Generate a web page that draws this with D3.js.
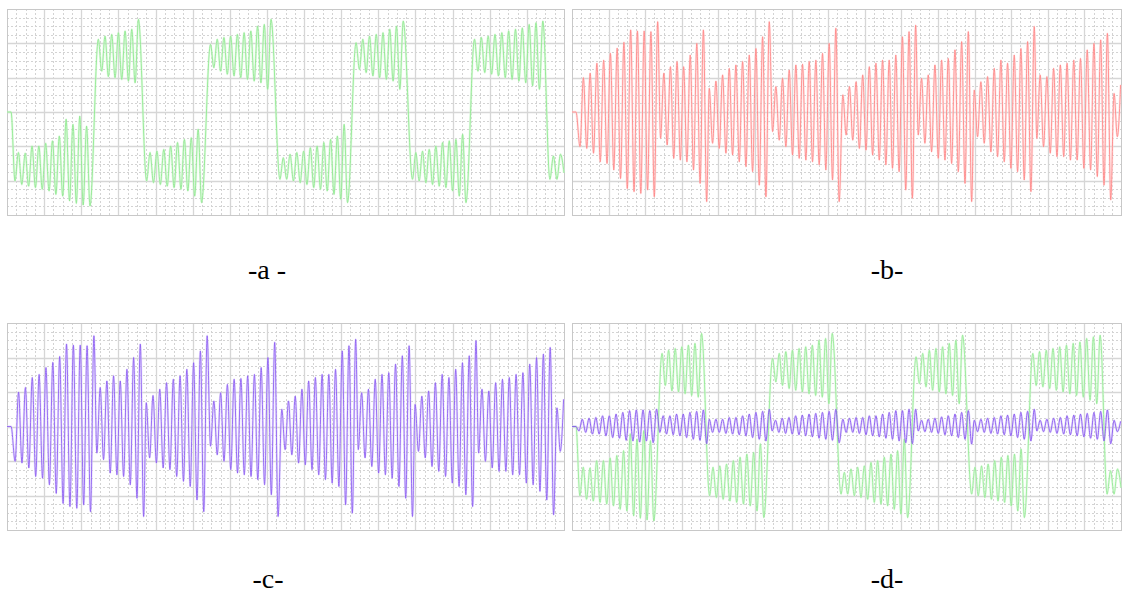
<!DOCTYPE html>
<html>
<head>
<meta charset="utf-8">
<script src="https://cdn.jsdelivr.net/npm/d3@7"></script>
<style>
  html, body { margin: 0; padding: 0; background: #fff; }
  svg { display: block; }
</style>
</head>
<body>
<svg id="chart" width="1122" height="594"></svg>
<script>
// time in screen divisions (0..15), value in divisions (-3..3)
// each segment: extrema, spread between its start and end time

// switched output voltage (panels a and d, green)
const greenT0 = [0, 0.215, 2.46, 3.76, 5.48, 7.35, 9.40, 10.92, 12.59, 14.62];
const greenT1 = [0.11, 2.235, 3.54, 5.24, 7.11, 9.17, 10.67, 12.36, 14.43, 15.0];
const greenPeaks = [
  [0, 0],
  [-2.01, -1.18, -2.11, -1.20, -2.16, -0.99, -2.20, -0.99, -2.25, -0.91, -2.30, -0.84, -2.40, -0.70, -2.45, -0.21, -2.59, -0.36, -2.66, -0.12, -2.71, -0.41, -2.74],
  [2.12, 1.19, 2.21, 1.03, 2.26, 1.00, 2.31, 0.95, 2.36, 0.90, 2.41, 0.85, 2.70],
  [-2.01, -1.18, -2.06, -1.14, -2.11, -1.09, -2.16, -0.99, -2.20, -0.89, -2.25, -0.80, -2.30, -0.75, -2.45, -0.50, -2.64],
  [1.97, 1.29, 2.12, 1.19, 2.17, 1.10, 2.21, 1.05, 2.26, 1.00, 2.31, 0.95, 2.36, 0.90, 2.50, 0.85, 2.55, 0.66, 2.70],
  [-1.96, -1.33, -1.96, -1.23, -2.01, -1.18, -2.06, -1.14, -2.11, -1.04, -2.20, -0.99, -2.25, -0.89, -2.30, -0.80, -2.40, -0.70, -2.54, -0.36, -2.64],
  [2.02, 1.24, 2.12, 1.15, 2.21, 1.05, 2.26, 1.00, 2.31, 0.95, 2.41, 0.90, 2.50, 0.66, 2.65],
  [-1.96, -1.18, -2.01, -1.14, -2.06, -1.09, -2.11, -0.99, -2.16, -0.89, -2.20, -0.84, -2.30, -0.80, -2.45, -0.65, -2.64],
  [2.12, 1.19, 2.17, 1.15, 2.21, 1.10, 2.26, 1.05, 2.31, 1.00, 2.36, 0.95, 2.41, 0.90, 2.45, 0.85, 2.55, 0.76, 2.60, 0.66, 2.65],
  [-1.96, -1.28, -1.96, -1.23, -1.77]
];

// load current (panel b red, panel c purple)
const currentT0 = [0, 0.219, 2.42, 3.75, 5.48, 7.40, 9.46, 10.99, 12.70, 14.81];
const currentT1 = [0.11, 2.341, 3.68, 5.39, 7.30, 9.39, 10.92, 12.63, 14.72, 14.99];
const currentPeaks = [
  [0, 0],
  [-1.01, 1.00, -1.06, 1.13, -1.20, 1.42, -1.45, 1.51, -1.50, 1.71, -1.69, 1.86, -1.94, 2.03, -2.23, 2.39, -2.32, 2.36, -2.37, 2.36, -2.27, 2.34, -2.47, 2.63],
  [-0.77, 1.13, -0.96, 1.32, -1.35, 1.47, -1.40, 1.32, -1.45, 1.66, -1.69, 2.00, -2.08, 2.39, -2.61],
  [0.69, -0.91, 0.90, -1.06, 1.08, -1.20, 1.27, -1.25, 1.37, -1.45, 1.47, -1.59, 1.66, -1.74, 1.85, -2.13, 2.19, -2.47, 2.63],
  [-0.57, 0.74, -0.82, 0.98, -1.01, 1.22, -1.25, 1.37, -1.35, 1.39, -1.40, 1.47, -1.45, 1.51, -1.54, 1.71, -1.69, 2.00, -1.98, 2.44, -2.61],
  [0.50, -0.67, 0.74, -0.82, 0.88, -1.06, 1.08, -1.11, 1.32, -1.25, 1.42, -1.40, 1.51, -1.54, 1.51, -1.64, 1.66, -1.74, 2.19, -2.27, 2.34, -2.51, 2.53],
  [-0.67, 0.98, -0.91, 1.08, -1.16, 1.37, -1.35, 1.51, -1.40, 1.56, -1.50, 1.81, -1.74, 2.05, -2.08, 2.34, -2.61],
  [0.64, -0.72, 0.88, -0.91, 1.03, -1.16, 1.27, -1.30, 1.51, -1.45, 1.42, -1.64, 1.66, -1.74, 1.85, -1.98, 2.05, -2.32, 2.49],
  [-0.77, 1.08, -1.01, 1.03, -1.20, 1.27, -1.30, 1.37, -1.30, 1.42, -1.40, 1.51, -1.40, 1.56, -1.64, 1.81, -1.69, 2.00, -1.88, 2.10, -2.13, 2.29, -2.56],
  [0.54, -0.72, 0.79]
];

// filtered current (panel d, purple)
const filteredT0 = [0, 0.19, 2.40, 3.75, 5.47, 7.40, 9.46, 10.99, 12.70, 14.81];
const filteredT1 = [0.11, 2.31, 3.68, 5.39, 7.30, 9.39, 10.92, 12.63, 14.72, 14.99];
const filteredPeaks = [
  [0, 0],
  [-0.13, 0.21, -0.17, 0.24, -0.22, 0.26, -0.22, 0.31, -0.27, 0.31, -0.32, 0.36, -0.34, 0.41, -0.40, 0.46, -0.42, 0.48, -0.45, 0.48, -0.42, 0.46, -0.47, 0.50],
  [-0.17, 0.31, -0.22, 0.31, -0.24, 0.36, -0.27, 0.36, -0.32, 0.41, -0.37, 0.44, -0.40, 0.48, -0.50],
  [0.21, -0.17, 0.21, -0.17, 0.21, -0.20, 0.26, -0.22, 0.26, -0.24, 0.31, -0.27, 0.36, -0.32, 0.41, -0.37, 0.44, -0.42, 0.50],
  [-0.13, 0.18, -0.17, 0.24, -0.20, 0.26, -0.22, 0.31, -0.24, 0.33, -0.27, 0.36, -0.30, 0.38, -0.34, 0.41, -0.37, 0.44, -0.40, 0.50, -0.47],
  [0.21, -0.17, 0.24, -0.17, 0.26, -0.20, 0.26, -0.24, 0.31, -0.27, 0.31, -0.30, 0.36, -0.34, 0.41, -0.37, 0.46, -0.42, 0.46, -0.47, 0.50, -0.50, 0.50],
  [-0.13, 0.18, -0.15, 0.21, -0.17, 0.24, -0.20, 0.28, -0.24, 0.31, -0.27, 0.36, -0.32, 0.41, -0.37, 0.46, -0.51],
  [0.18, -0.15, 0.21, -0.17, 0.24, -0.20, 0.26, -0.22, 0.31, -0.24, 0.33, -0.27, 0.36, -0.32, 0.41, -0.37, 0.44, -0.42, 0.50],
  [-0.13, 0.18, -0.15, 0.21, -0.17, 0.24, -0.20, 0.26, -0.22, 0.31, -0.24, 0.33, -0.27, 0.36, -0.30, 0.38, -0.34, 0.41, -0.37, 0.44, -0.42, 0.48, -0.50],
  [0.18, -0.15, 0.15]
];

const panelLabels = ["-a -", "-b-", "-c-", "-d-"];

const svg = d3.select("#chart");

// place the read extrema of each segment along the time axis
function toPoints(t0, t1, peaks) {
  const pts = [];
  peaks.forEach((vals, i) => {
    const step = vals.length > 1 ? (t1[i] - t0[i]) / (vals.length - 1) : 0;
    vals.forEach((v, k) => pts.push({ t: t0[i] + k * step, v: v }));
  });
  return pts;
}

const green = toPoints(greenT0, greenT1, greenPeaks);
const current = toPoints(currentT0, currentT1, currentPeaks);
const filtered = toPoints(filteredT0, filteredT1, filteredPeaks);

const panels = [
  { x0: 7, x1: 564, y0: 9, y1: 215, label: panelLabels[0], lx: 267, ly: 279,
    traces: [{ data: green, color: "#8ee88e", halo: "#d2f7d2" }] },
  { x0: 572, x1: 1121, y0: 9, y1: 215, label: panelLabels[1], lx: 887, ly: 279,
    traces: [{ data: current, color: "#ff8484", halo: "#ffd9d9" }] },
  { x0: 7, x1: 564, y0: 323, y1: 530, label: panelLabels[2], lx: 268, ly: 588,
    traces: [{ data: current, color: "#8a5af2", halo: "#ddd2fb" }] },
  { x0: 572, x1: 1121, y0: 323, y1: 530, label: panelLabels[3], lx: 887, ly: 588,
    traces: [{ data: green, color: "#94ea94", halo: "#d6f8d6" },
             { data: filtered, color: "#8452f0", halo: "#d8ccfa" }] }
];

panels.forEach(function (p) {
  const x = d3.scaleLinear().domain([0, 15]).range([p.x0, p.x1]);
  const y = d3.scaleLinear().domain([-3, 3]).range([p.y1, p.y0]);
  const g = svg.append("g");

  // minor grid (dotted)
  const minorX = d3.range(0, 15.001, 0.25).filter((d) => d % 1 !== 0);
  const minorY = d3.range(-3, 3.001, 0.25).filter((d) => d % 1 !== 0);
  g.selectAll(".mx").data(minorX).join("line")
    .attr("x1", (d) => Math.round(x(d)) + 0.5).attr("x2", (d) => Math.round(x(d)) + 0.5)
    .attr("y1", p.y0).attr("y2", p.y1)
    .attr("stroke", "#d3d3d3").attr("stroke-dasharray", "2,2");
  g.selectAll(".my").data(minorY).join("line")
    .attr("y1", (d) => Math.round(y(d)) + 0.5).attr("y2", (d) => Math.round(y(d)) + 0.5)
    .attr("x1", p.x0).attr("x2", p.x1)
    .attr("stroke", "#d3d3d3").attr("stroke-dasharray", "2,2");

  // major grid
  g.selectAll(".Mx").data(d3.range(1, 15)).join("line")
    .attr("x1", (d) => Math.round(x(d)) + 0.5).attr("x2", (d) => Math.round(x(d)) + 0.5)
    .attr("y1", p.y0).attr("y2", p.y1)
    .attr("stroke", "#d6d6d6").attr("stroke-width", 1.3);
  g.selectAll(".My").data(d3.range(-2, 3)).join("line")
    .attr("y1", (d) => Math.round(y(d)) + 0.5).attr("y2", (d) => Math.round(y(d)) + 0.5)
    .attr("x1", p.x0).attr("x2", p.x1)
    .attr("stroke", "#d6d6d6").attr("stroke-width", 1.3);

  g.append("rect")
    .attr("x", p.x0 + 0.5).attr("y", p.y0 + 0.5)
    .attr("width", p.x1 - p.x0).attr("height", p.y1 - p.y0)
    .attr("fill", "none").attr("stroke", "#c8c8c8");

  const line = d3.line()
    .x((d) => x(d.t))
    .y((d) => y(d.v))
    .curve(d3.curveMonotoneX);

  p.traces.forEach(function (tr) {
    g.append("path").datum(tr.data)
      .attr("d", line).attr("fill", "none")
      .attr("stroke", tr.halo).attr("stroke-width", 2.4).attr("opacity", 0.6);
  });
  p.traces.forEach(function (tr) {
    g.append("path").datum(tr.data)
      .attr("d", line).attr("fill", "none")
      .attr("stroke", tr.color).attr("stroke-width", 0.85);
  });

  svg.append("text")
    .attr("x", p.lx).attr("y", p.ly)
    .attr("text-anchor", "middle")
    .style("font-family", "'Liberation Serif', 'Times New Roman', 'DejaVu Serif', serif")
    .style("font-size", "28px")
    .attr("fill", "#000")
    .text(p.label);
});
</script>
</body>
</html>
